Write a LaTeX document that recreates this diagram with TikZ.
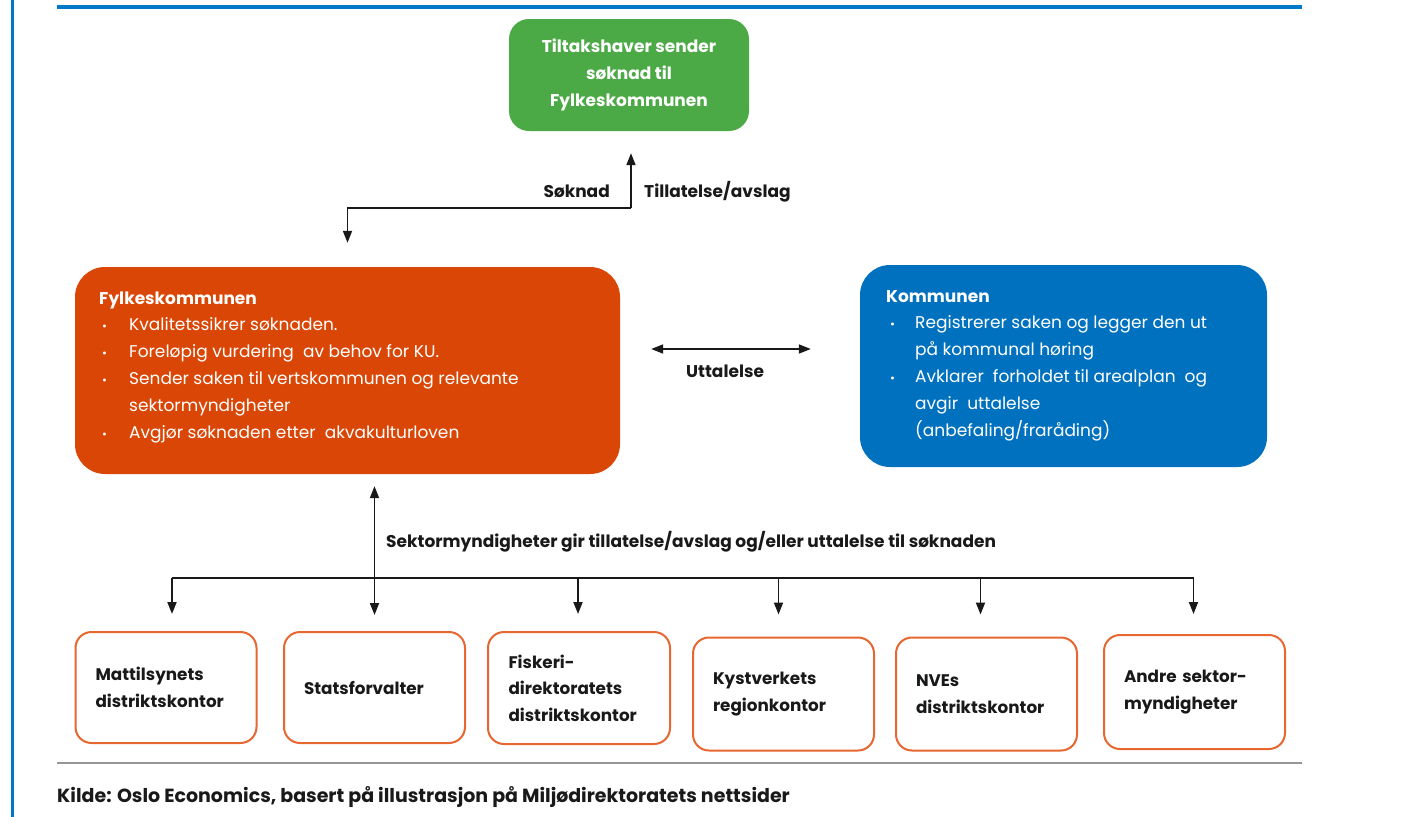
\documentclass[tikz,border=0pt]{standalone}
\usepackage{fontspec}
\setmainfont{Poppins}
\usetikzlibrary{arrows.meta,calc}
\definecolor{frameblue}{RGB}{0,120,200}
\definecolor{boxgreen}{RGB}{76,170,70}
\definecolor{boxorange}{RGB}{218,70,5}
\definecolor{boxblue}{RGB}{0,113,190}
\definecolor{edgeorange}{RGB}{232,102,48}
\definecolor{ink}{RGB}{25,25,25}
\definecolor{rulegray}{RGB}{150,150,150}
\newcommand{\bul}{{\fontsize{12}{12}\selectfont\textbullet}}
\begin{document}
\begin{tikzpicture}[x=1pt,y=-1pt,
  conn/.style={draw=ink,line width=1.8pt},
  arr/.style={conn,-{Triangle[length=12pt,width=9pt]}},
  darr/.style={conn,{Triangle[length=12pt,width=9pt]}-{Triangle[length=12pt,width=9pt]}},
  lbl/.style={font=\bfseries\fontsize{17}{20}\selectfont,text=ink,inner sep=0pt},
  bigbox/.style={rounded corners=30pt,inner sep=0pt},
  sectorbox/.style={draw=edgeorange,line width=2pt,fill=white,rounded corners=16pt,
    inner xsep=20pt,inner ysep=0pt,text width=141pt,align=left,text=ink,
    font=\bfseries\fontsize{16.8}{26.5}\selectfont},
  listtext/.style={anchor=base west,inner sep=0pt,text=white,font=\fontsize{17}{26.8}\selectfont}
]
\useasboundingbox (0,0) rectangle (1409,817);
\fill[white] (0,0) rectangle (1409,817);
% frame lines
\draw[frameblue,line width=3pt] (12,0) -- (12,817);
\draw[frameblue,line width=4pt] (57,7) -- (1302,7);
\draw[rulegray,line width=2pt] (57,763) -- (1302,763);

% green box
\node[bigbox,rounded corners=20pt,fill=boxgreen,minimum width=240pt,minimum height=112pt,
  text=white,align=center,font=\bfseries\fontsize{17}{27}\selectfont] (g) at (629,75)
  {Tiltakshaver sender\\søknad til\\Fylkeskommunen};

% orange box
\node[bigbox,fill=boxorange,minimum width=545pt,minimum height=207pt] (o) at (347.5,370.5) {};
\node[listtext] (otxt) at (99,304) {\begin{tabular}[t]{@{}p{30pt}@{}l@{}}
\multicolumn{2}{@{}l@{}}{\bfseries Fylkeskommunen}\\
\hspace{3pt}\bul & Kvalitetssikrer  søknaden.\\
\hspace{3pt}\bul & Foreløpig vurdering \ av behov for KU.\\
\hspace{3pt}\bul & Sender saken til vertskommunen og relevante\\
 & sektormyndigheter\\
\hspace{3pt}\bul & Avgjør søknaden etter \ akvakulturloven
\end{tabular}};

% blue box
\node[bigbox,fill=boxblue,minimum width=407pt,minimum height=202pt] (k) at (1063.5,366) {};
\node[listtext] (ktxt) at (886,302) {\begin{tabular}[t]{@{}p{29pt}@{}l@{}}
\multicolumn{2}{@{}l@{}}{\bfseries Kommunen}\\
\hspace{4pt}\bul & Registrerer saken og legger den ut\\
 & på kommunal høring\\
\hspace{4pt}\bul & Avklarer \ forholdet til arealplan \ og\\
 & avgir \ uttalelse\\
 & (anbefaling/fraråding)
\end{tabular}};

% sector boxes
\node[sectorbox,minimum width=181pt,minimum height=111pt] (s1) at (166,687.5) {Mattilsynets\\distriktskontor};
\node[sectorbox,minimum width=181pt,minimum height=111pt] (s2) at (374.5,687.5) {Statsforvalter};
\node[sectorbox,minimum width=182pt,minimum height=112pt] (s3) at (579,688) {Fiskeri-\\direktoratets\\distriktskontor};
\node[sectorbox,minimum width=181pt,minimum height=113pt] (s4) at (783.5,694) {Kystverkets\\regionkontor};
\node[sectorbox,minimum width=179pt,minimum height=113pt] (s5) at (986.5,694) {NVEs\\distriktskontor};
\node[sectorbox,minimum width=181pt,minimum height=114pt] (s6) at (1194.5,692) {Andre sektor-\\myndigheter};

% application arrows
\coordinate (j1) at (631,208);
\draw[arr,shorten >=22pt] (j1) -- (j1 |- g.south);
\draw[arr,shorten >=24pt] (j1) -| (o.north);
\node[lbl,anchor=base east] (lsok) at (610,197) {Søknad};
\node[lbl,anchor=base west] (ltil) at (644,197) {Tillatelse/avslag};

% uttalelse
\coordinate (ua) at (0,349);
\draw[darr,shorten <=31pt,shorten >=49pt] (o.east |- ua) -- (k.west |- ua);
\node[lbl,anchor=base west] (lutt) at (686,377) {Uttalelse};

% sector arrows
\coordinate (bus) at (0,578);
\coordinate (b1) at ($(s1.north)+(6,0)$);
\coordinate (b3) at ($(s3.north)+(-1,0)$);
\coordinate (b4) at ($(s4.north)+(-5,0)$);
\coordinate (b5) at ($(s5.north)+(-6,0)$);
\coordinate (b6) at ($(s6.north)+(-1,0)$);
\draw[conn] (b1 |- bus) -- (b6 |- bus);
\draw[darr,shorten <=12pt,shorten >=16pt] (s2.north |- o.south) -- (s2.north);
\draw[arr,shorten >=17pt] (b1 |- bus) -- (b1);
\draw[arr,shorten >=17pt] (b3 |- bus) -- (b3);
\draw[arr,shorten >=22pt] (b4 |- bus) -- (b4);
\draw[arr,shorten >=22pt] (b5 |- bus) -- (b5);
\draw[arr,shorten >=20pt] (b6 |- bus) -- (b6);
\node[lbl,anchor=base west] (lsek) at (386,547) {Sektormyndigheter gir tillatelse/avslag og/eller uttalelse til søknaden};

% source
\node[lbl,anchor=base west,font=\bfseries\fontsize{19}{22}\selectfont] (src) at (57,802)
  {Kilde: Oslo Economics, basert på illustrasjon på Miljødirektoratets nettsider};
\end{tikzpicture}
\end{document}
